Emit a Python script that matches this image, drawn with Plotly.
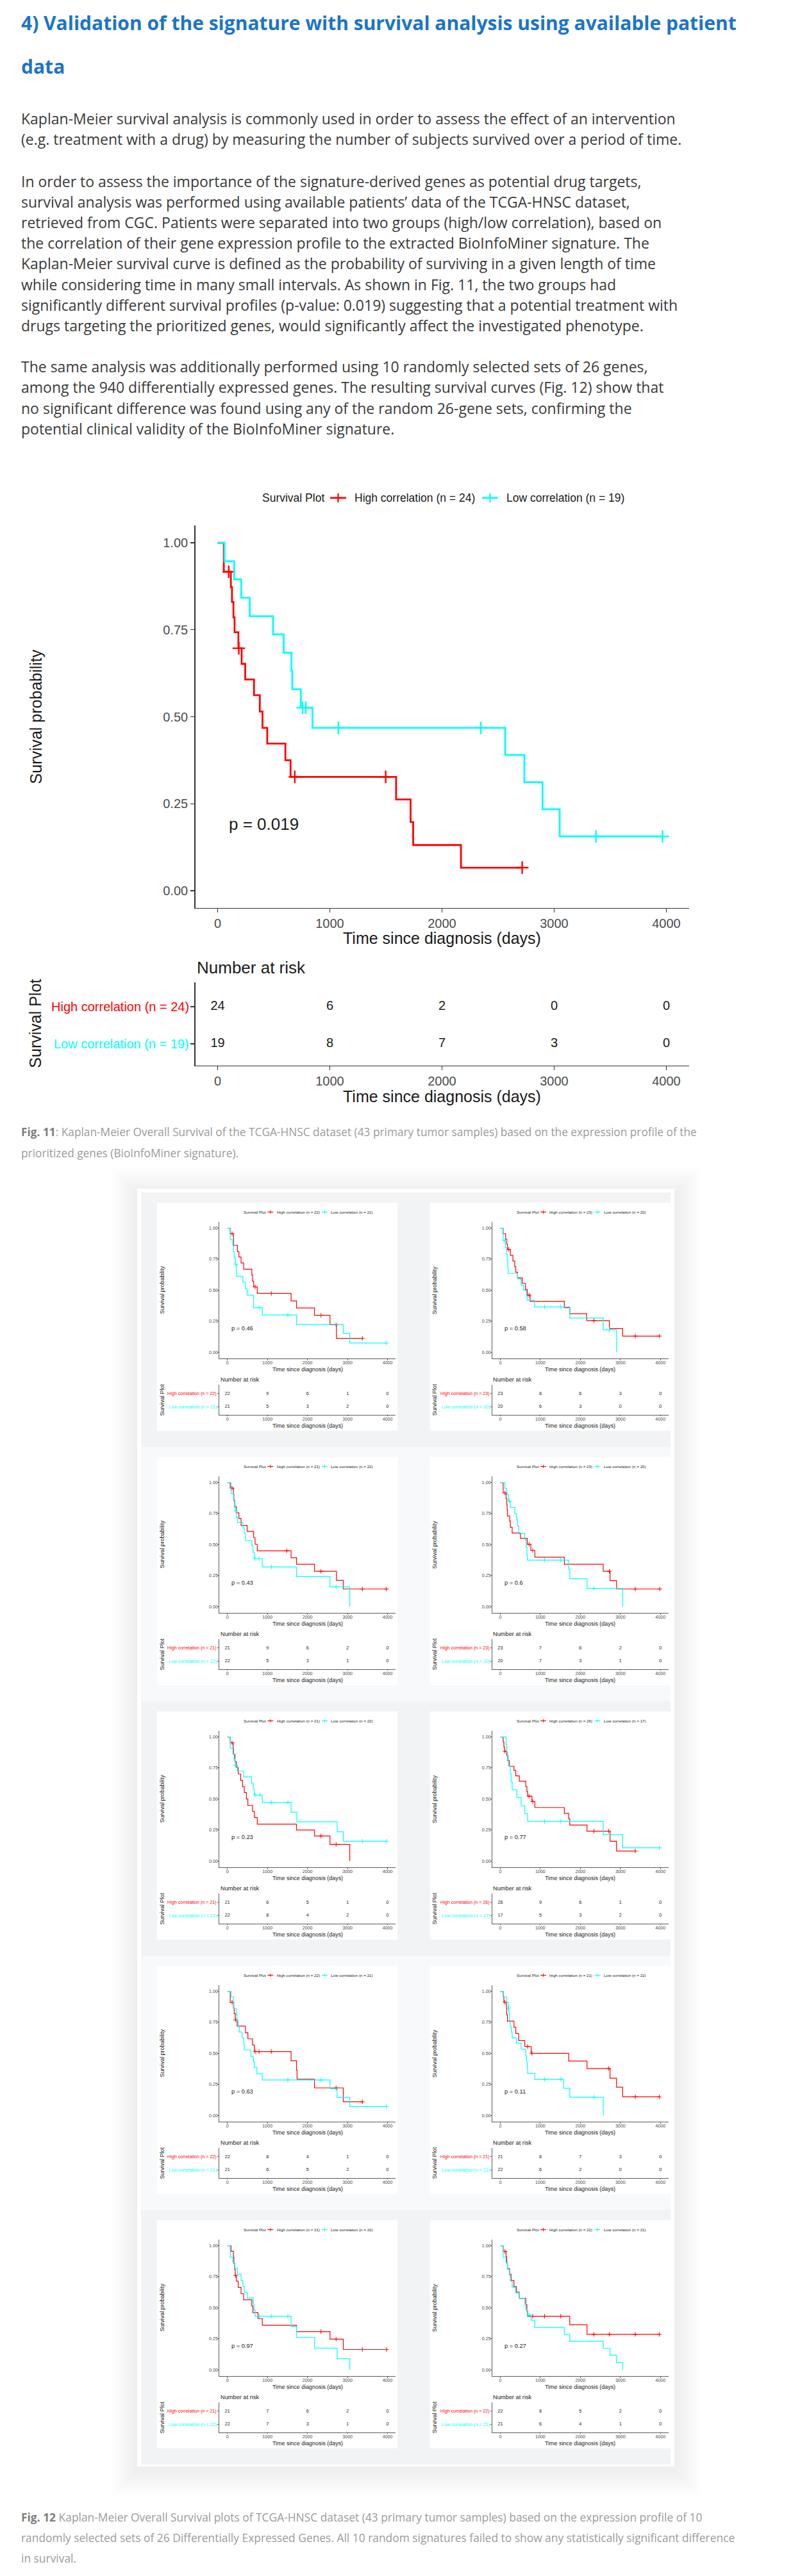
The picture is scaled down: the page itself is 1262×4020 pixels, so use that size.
import plotly.graph_objects as go

W, H = 1262, 4020

# ---------------- page text ----------------
HEADING = ["4) Validation of the signature with survival analysis using available patient", "data"]
PARA1 = [
    "Kaplan-Meier survival analysis is commonly used in order to assess the effect of an intervention",
    "(e.g. treatment with a drug) by measuring the number of subjects survived over a period of time.",
]
PARA2 = [
    "In order to assess the importance of the signature-derived genes as potential drug targets,",
    "survival analysis was performed using available patients\u2019 data of the TCGA-HNSC dataset,",
    "retrieved from CGC. Patients were separated into two groups (high/low correlation), based on",
    "the correlation of their gene expression profile to the extracted BioInfoMiner signature. The",
    "Kaplan-Meier survival curve is defined as the probability of surviving in a given length of time",
    "while considering time in many small intervals. As shown in Fig. 11, the two groups had",
    "significantly different survival profiles (p-value: 0.019) suggesting that a potential treatment with",
    "drugs targeting the prioritized genes, would significantly affect the investigated phenotype.",
]
PARA3 = [
    "The same analysis was additionally performed using 10 randomly selected sets of 26 genes,",
    "among the 940 differentially expressed genes. The resulting survival curves (Fig. 12) show that",
    "no significant difference was found using any of the random 26-gene sets, confirming the",
    "potential clinical validity of the BioInfoMiner signature.",
]
CAP11_BOLD = "Fig. 11"
CAP11 = [
    ": Kaplan-Meier Overall Survival of the TCGA-HNSC dataset (43 primary tumor samples) based on the expression profile of the",
    "prioritized genes (BioInfoMiner signature).",
]
CAP12_BOLD = "Fig. 12"
CAP12 = [
    " Kaplan-Meier Overall Survival plots of TCGA-HNSC dataset (43 primary tumor samples) based on the expression profile of 10",
    "randomly selected sets of 26 Differentially Expressed Genes. All 10 random signatures failed to show any statistically significant difference",
    "in survival.",
]

# ---------------- shared chart labels ----------------
TIME_TICKS = [0, 1000, 2000, 3000, 4000]
PROB_TICKS = [0, 0.25, 0.5, 0.75, 1.0]
PROB_LABELS = ["0.00", "0.25", "0.50", "0.75", "1.00"]
X_TITLE = "Time since diagnosis (days)"
Y_TITLE = "Survival probability"
LEGEND_TITLE = "Survival Plot"
RISK_TITLE = "Number at risk"
RISK_TIMES = [0, 1000, 2000, 3000, 4000]

# ---------------- Fig. 11 data ----------------
F11_P = "p = 0.019"
F11_N = [24, 19]
F11_HIGH_T = [0, 55, 118, 128, 141, 151, 185, 214, 246, 324, 376, 400, 442, 604, 650, 1591, 1720, 1743, 2169]
F11_HIGH_S = [1.0, 0.917, 0.873, 0.830, 0.786, 0.743, 0.697, 0.652, 0.607, 0.562, 0.515, 0.468, 0.423, 0.375, 0.327, 0.262, 0.197, 0.131, 0.066]
F11_HIGH_END = 2715
F11_HIGH_CENS = [99, 189, 688, 1498, 2715]
F11_LOW_T = [0, 61, 147, 210, 286, 494, 589, 658, 665, 742, 845, 2563, 2734, 2896, 3049]
F11_LOW_S = [1.0, 0.947, 0.895, 0.842, 0.789, 0.737, 0.684, 0.632, 0.579, 0.526, 0.468, 0.390, 0.312, 0.234, 0.156]
F11_LOW_END = 3966
F11_LOW_CENS = [757, 786, 1076, 2346, 3373, 3966]
F11_RISK_HIGH = [24, 6, 2, 0, 0]
F11_RISK_LOW = [19, 8, 7, 3, 0]

# ---------------- Fig. 12 data (10 random gene sets) ----------------
R1_P = "p = 0.46"; R1_N = [22, 21]
R1_HIGH_T = [0, 72, 153, 252, 288, 342, 405, 611, 629, 656, 746, 1591, 1726, 2175, 2562, 2723]
R1_HIGH_S = [1.0, 0.955, 0.862, 0.81, 0.767, 0.719, 0.669, 0.62, 0.572, 0.526, 0.474, 0.414, 0.357, 0.298, 0.221, 0.112]
R1_HIGH_END = 3371
R1_HIGH_CENS = [117, 692, 1097, 2337, 2714, 3371]
R1_LOW_T = [0, 72, 135, 153, 171, 198, 225, 387, 449, 494, 656, 872, 1726, 2894, 3056]
R1_LOW_S = [1.0, 0.905, 0.857, 0.81, 0.76, 0.71, 0.612, 0.564, 0.512, 0.46, 0.359, 0.3, 0.224, 0.152, 0.074]
R1_LOW_END = 3973
R1_LOW_CENS = [207, 791, 1510, 3973]
R1_RISK_HIGH = [22, 9, 6, 1, 0]
R1_RISK_LOW = [21, 5, 3, 2, 0]

R2_P = "p = 0.58"; R2_N = [23, 20]
R2_HIGH_T = [0, 72, 135, 162, 180, 252, 315, 360, 387, 432, 548, 629, 674, 746, 1600, 1735, 2157, 2723, 3056]
R2_HIGH_S = [1.0, 0.955, 0.91, 0.87, 0.828, 0.78, 0.735, 0.69, 0.645, 0.6, 0.555, 0.505, 0.46, 0.41, 0.36, 0.31, 0.255, 0.19, 0.13]
R2_HIGH_END = 3973
R2_HIGH_CENS = [207, 719, 2337, 3371, 3973]
R2_LOW_T = [0, 72, 126, 153, 171, 189, 198, 432, 521, 584, 656, 674, 854, 1735, 2571, 2903]
R2_LOW_S = [1.0, 0.9, 0.845, 0.79, 0.74, 0.688, 0.635, 0.59, 0.54, 0.5, 0.45, 0.42, 0.365, 0.276, 0.18, 0.0]
R2_LOW_END = 2903
R2_LOW_CENS = [117, 1106, 1510, 2723]
R2_RISK_HIGH = [23, 8, 6, 3, 0]
R2_RISK_LOW = [20, 6, 3, 0, 0]

R3_P = "p = 0.43"; R3_N = [21, 22]
R3_HIGH_T = [0, 72, 153, 162, 180, 225, 288, 342, 494, 656, 692, 746, 1591, 1726, 2175, 2723, 2894]
R3_HIGH_S = [1.0, 0.955, 0.905, 0.855, 0.805, 0.756, 0.71, 0.654, 0.606, 0.555, 0.502, 0.45, 0.394, 0.341, 0.285, 0.211, 0.142]
R3_HIGH_END = 3973
R3_HIGH_CENS = [117, 1483, 2337, 3371, 3973]
R3_LOW_T = [0, 90, 153, 180, 198, 225, 252, 387, 423, 450, 611, 638, 674, 872, 1726, 2562, 3056]
R3_LOW_S = [1.0, 0.912, 0.865, 0.815, 0.77, 0.72, 0.68, 0.635, 0.59, 0.533, 0.49, 0.44, 0.386, 0.32, 0.242, 0.16, 0.0]
R3_LOW_END = 3056
R3_LOW_CENS = [216, 692, 791, 1097, 2714]
R3_RISK_HIGH = [21, 9, 6, 2, 0]
R3_RISK_LOW = [22, 5, 3, 1, 0]

R4_P = "p = 0.6"; R4_N = [23, 20]
R4_HIGH_T = [0, 72, 144, 162, 171, 180, 234, 252, 297, 503, 674, 764, 863, 1600, 2571, 2741, 2903]
R4_HIGH_S = [1.0, 0.917, 0.87, 0.825, 0.78, 0.73, 0.69, 0.64, 0.593, 0.55, 0.502, 0.453, 0.398, 0.341, 0.285, 0.21, 0.142]
R4_HIGH_END = 3982
R4_HIGH_CENS = [117, 719, 809, 2723, 3371, 3982]
R4_LOW_T = [0, 117, 162, 207, 252, 360, 405, 432, 459, 611, 647, 665, 674, 1708, 1735, 2166, 3056]
R4_LOW_S = [1.0, 0.952, 0.903, 0.85, 0.8, 0.75, 0.7, 0.65, 0.588, 0.54, 0.48, 0.42, 0.375, 0.3, 0.225, 0.147, 0.0]
R4_LOW_END = 3056
R4_LOW_CENS = [225, 1106, 1510, 2337]
R4_RISK_HIGH = [23, 7, 6, 2, 0]
R4_RISK_LOW = [20, 7, 3, 1, 0]

R5_P = "p = 0.23"; R5_N = [21, 22]
R5_HIGH_T = [0, 72, 144, 153, 189, 225, 270, 333, 378, 423, 476, 512, 629, 674, 746, 1726, 2175, 2562, 3056]
R5_HIGH_S = [1.0, 0.953, 0.905, 0.86, 0.8, 0.755, 0.702, 0.65, 0.6, 0.552, 0.5, 0.448, 0.4, 0.35, 0.298, 0.25, 0.202, 0.134, 0.0]
R5_HIGH_END = 3056
R5_HIGH_CENS = [117, 2337, 2714]
R5_LOW_T = [0, 72, 135, 171, 198, 252, 405, 602, 647, 674, 872, 1591, 1735, 2741, 2894]
R5_LOW_S = [1.0, 0.909, 0.86, 0.82, 0.77, 0.724, 0.678, 0.626, 0.58, 0.531, 0.472, 0.393, 0.316, 0.236, 0.159]
R5_LOW_END = 3973
R5_LOW_CENS = [207, 692, 809, 1097, 1510, 3371, 3973]
R5_RISK_HIGH = [21, 6, 5, 1, 0]
R5_RISK_LOW = [22, 8, 4, 2, 0]

R6_P = "p = 0.77"; R6_N = [26, 17]
R6_HIGH_T = [0, 72, 90, 108, 162, 189, 225, 342, 387, 476, 638, 665, 683, 791, 863, 1600, 1708, 1735, 2166, 2741, 2903]
R6_HIGH_S = [1.0, 0.96, 0.92, 0.883, 0.85, 0.81, 0.764, 0.73, 0.686, 0.643, 0.6, 0.56, 0.522, 0.479, 0.431, 0.384, 0.34, 0.29, 0.241, 0.16, 0.081]
R6_HIGH_END = 3371
R6_HIGH_CENS = [117, 719, 809, 2337, 2705, 3371]
R6_LOW_T = [0, 144, 162, 180, 207, 252, 270, 297, 414, 521, 611, 683, 2571, 3056]
R6_LOW_S = [1.0, 0.94, 0.88, 0.82, 0.765, 0.702, 0.64, 0.574, 0.512, 0.445, 0.383, 0.319, 0.212, 0.107]
R6_LOW_END = 3973
R6_LOW_CENS = [1106, 1510, 3973]
R6_RISK_HIGH = [26, 9, 6, 1, 0]
R6_RISK_LOW = [17, 5, 3, 2, 0]

R7_P = "p = 0.63"; R7_N = [22, 21]
R7_HIGH_T = [0, 72, 153, 171, 198, 243, 449, 512, 629, 674, 1591, 1726, 1740, 2175, 2894]
R7_HIGH_S = [1.0, 0.912, 0.865, 0.82, 0.769, 0.719, 0.667, 0.617, 0.567, 0.514, 0.441, 0.365, 0.293, 0.222, 0.11]
R7_HIGH_END = 3371
R7_HIGH_CENS = [117, 207, 692, 791, 1097, 2714, 3371]
R7_LOW_T = [0, 90, 153, 162, 225, 243, 270, 297, 369, 405, 423, 584, 647, 674, 737, 872, 2562, 2741, 3056]
R7_LOW_S = [1.0, 0.955, 0.905, 0.862, 0.81, 0.765, 0.715, 0.672, 0.626, 0.575, 0.528, 0.476, 0.43, 0.385, 0.336, 0.286, 0.216, 0.145, 0.072]
R7_LOW_END = 3973
R7_LOW_CENS = [1510, 2337, 3973]
R7_RISK_HIGH = [22, 8, 4, 1, 0]
R7_RISK_LOW = [21, 6, 5, 2, 0]

R8_P = "p = 0.11"; R8_N = [21, 22]
R8_HIGH_T = [0, 72, 90, 153, 162, 180, 342, 387, 459, 611, 773, 1708, 2166, 2741, 2903, 3056]
R8_HIGH_S = [1.0, 0.955, 0.912, 0.86, 0.81, 0.76, 0.71, 0.66, 0.603, 0.555, 0.5, 0.438, 0.378, 0.3, 0.228, 0.15]
R8_HIGH_END = 3973
R8_HIGH_CENS = [117, 683, 791, 2705, 3371, 3973]
R8_LOW_T = [0, 72, 162, 198, 216, 234, 252, 279, 297, 405, 521, 638, 656, 674, 683, 863, 1582, 1735, 2571]
R8_LOW_S = [1.0, 0.955, 0.91, 0.865, 0.82, 0.765, 0.715, 0.67, 0.624, 0.583, 0.534, 0.48, 0.43, 0.385, 0.338, 0.29, 0.219, 0.147, 0.0]
R8_LOW_END = 2571
R8_LOW_CENS = [207, 1106, 1510, 2337]
R8_RISK_HIGH = [21, 8, 7, 3, 0]
R8_RISK_LOW = [22, 6, 2, 0, 0]

R9_P = "p = 0.97"; R9_N = [21, 22]
R9_HIGH_T = [0, 90, 153, 162, 180, 198, 225, 270, 342, 405, 611, 638, 764, 872, 1726, 2562, 2894]
R9_HIGH_S = [1.0, 0.954, 0.905, 0.858, 0.81, 0.76, 0.714, 0.664, 0.613, 0.565, 0.513, 0.461, 0.413, 0.36, 0.308, 0.247, 0.164]
R9_HIGH_END = 3973
R9_HIGH_CENS = [207, 2337, 2714, 3371, 3973]
R9_LOW_T = [0, 72, 135, 180, 252, 342, 387, 423, 494, 647, 665, 692, 1591, 1726, 2175, 2741, 3056]
R9_LOW_S = [1.0, 0.908, 0.865, 0.82, 0.77, 0.72, 0.672, 0.625, 0.579, 0.53, 0.48, 0.432, 0.349, 0.262, 0.175, 0.09, 0.0]
R9_LOW_END = 3056
R9_LOW_CENS = [791, 1097, 1510]
R9_RISK_HIGH = [21, 7, 6, 2, 0]
R9_RISK_LOW = [22, 7, 3, 1, 0]

R10_P = "p = 0.27"; R10_N = [22, 21]
R10_HIGH_T = [0, 72, 144, 162, 180, 234, 270, 342, 405, 476, 638, 665, 683, 1735, 2166]
R10_HIGH_S = [1.0, 0.954, 0.91, 0.86, 0.815, 0.77, 0.72, 0.67, 0.625, 0.576, 0.525, 0.475, 0.432, 0.363, 0.286]
R10_HIGH_END = 3973
R10_HIGH_CENS = [117, 809, 1106, 1510, 2337, 2723, 3371, 3973]
R10_LOW_T = [0, 72, 144, 180, 234, 252, 297, 387, 476, 611, 638, 674, 773, 863, 1600, 1735, 2571, 2741, 2903, 3056]
R10_LOW_S = [1.0, 0.908, 0.86, 0.81, 0.76, 0.715, 0.665, 0.62, 0.575, 0.53, 0.485, 0.44, 0.4, 0.341, 0.286, 0.23, 0.173, 0.118, 0.059, 0.0]
R10_LOW_END = 3056
R10_LOW_CENS = [719]
R10_RISK_HIGH = [22, 8, 5, 2, 0]
R10_RISK_LOW = [21, 6, 4, 1, 0]

# ---------------- styling ----------------
RED = "#FF0000"
CYAN = "#00FFFF"
AXIS_COLOR = "#333333"
TICK_COLOR = "#4d4d4d"
GG_FONT = "Liberation Sans, Arial, sans-serif"
PAGE_FONT = "Open Sans, sans-serif"
HEAD_COLOR = "#1b75c9"
BODY_COLOR = "#3a3a3a"
CAP_COLOR = "#9b9b9b"


def chart(p, n, ht, hs, hend, hc, lt, ls, lend, lc, rh, rl):
    return dict(p=p, n=n, high=(ht, hs, hend, hc), low=(lt, ls, lend, lc), rh=rh, rl=rl)


MAIN = chart(F11_P, F11_N, F11_HIGH_T, F11_HIGH_S, F11_HIGH_END, F11_HIGH_CENS,
             F11_LOW_T, F11_LOW_S, F11_LOW_END, F11_LOW_CENS, F11_RISK_HIGH, F11_RISK_LOW)
SMALL = [
    chart(R1_P, R1_N, R1_HIGH_T, R1_HIGH_S, R1_HIGH_END, R1_HIGH_CENS, R1_LOW_T, R1_LOW_S, R1_LOW_END, R1_LOW_CENS, R1_RISK_HIGH, R1_RISK_LOW),
    chart(R2_P, R2_N, R2_HIGH_T, R2_HIGH_S, R2_HIGH_END, R2_HIGH_CENS, R2_LOW_T, R2_LOW_S, R2_LOW_END, R2_LOW_CENS, R2_RISK_HIGH, R2_RISK_LOW),
    chart(R3_P, R3_N, R3_HIGH_T, R3_HIGH_S, R3_HIGH_END, R3_HIGH_CENS, R3_LOW_T, R3_LOW_S, R3_LOW_END, R3_LOW_CENS, R3_RISK_HIGH, R3_RISK_LOW),
    chart(R4_P, R4_N, R4_HIGH_T, R4_HIGH_S, R4_HIGH_END, R4_HIGH_CENS, R4_LOW_T, R4_LOW_S, R4_LOW_END, R4_LOW_CENS, R4_RISK_HIGH, R4_RISK_LOW),
    chart(R5_P, R5_N, R5_HIGH_T, R5_HIGH_S, R5_HIGH_END, R5_HIGH_CENS, R5_LOW_T, R5_LOW_S, R5_LOW_END, R5_LOW_CENS, R5_RISK_HIGH, R5_RISK_LOW),
    chart(R6_P, R6_N, R6_HIGH_T, R6_HIGH_S, R6_HIGH_END, R6_HIGH_CENS, R6_LOW_T, R6_LOW_S, R6_LOW_END, R6_LOW_CENS, R6_RISK_HIGH, R6_RISK_LOW),
    chart(R7_P, R7_N, R7_HIGH_T, R7_HIGH_S, R7_HIGH_END, R7_HIGH_CENS, R7_LOW_T, R7_LOW_S, R7_LOW_END, R7_LOW_CENS, R7_RISK_HIGH, R7_RISK_LOW),
    chart(R8_P, R8_N, R8_HIGH_T, R8_HIGH_S, R8_HIGH_END, R8_HIGH_CENS, R8_LOW_T, R8_LOW_S, R8_LOW_END, R8_LOW_CENS, R8_RISK_HIGH, R8_RISK_LOW),
    chart(R9_P, R9_N, R9_HIGH_T, R9_HIGH_S, R9_HIGH_END, R9_HIGH_CENS, R9_LOW_T, R9_LOW_S, R9_LOW_END, R9_LOW_CENS, R9_RISK_HIGH, R9_RISK_LOW),
    chart(R10_P, R10_N, R10_HIGH_T, R10_HIGH_S, R10_HIGH_END, R10_HIGH_CENS, R10_LOW_T, R10_LOW_S, R10_LOW_END, R10_LOW_CENS, R10_RISK_HIGH, R10_RISK_LOW),
]

traces, shapes, annotations, axes = [], [], [], {}


def names(n):
    if n == 1:
        return "xaxis", "yaxis", "x", "y"
    return f"xaxis{n}", f"yaxis{n}", f"x{n}", f"y{n}"


def step_at(ts, ss, t):
    v = ss[0]
    for ti, si in zip(ts, ss):
        if ti <= t:
            v = si
    return v


def px(x):
    return x / W


def py(y):
    return 1 - y / H


def text(x, y, s, size, color="#1a1a1a", anchor="left", family=GG_FONT, angle=0, xref="paper", yref="paper"):
    annotations.append(dict(x=x, y=y, xref=xref, yref=yref, text=s, showarrow=False,
                            xanchor=anchor, yanchor="middle", textangle=angle,
                            font=dict(family=family, size=size, color=color), borderpad=0))


def draw_chart(ch, ox, oy, s, n_km):
    X = lambda v: ox + s * v
    Y = lambda v: oy + s * v
    small = s < 1
    lw_axis = max(1.3 * s, 0.8)
    lw_curve = max(2.8 * s, 1.2)
    n_rt = n_km + 1
    xk, yk, xkr, ykr = names(n_km)
    xr, yr, xrr, yrr = names(n_rt)
    base = dict(showline=True, linecolor=AXIS_COLOR, linewidth=lw_axis, ticks="outside",
                ticklen=2 if small else 6, tickwidth=lw_axis, tickcolor=AXIS_COLOR,
                showgrid=False, zeroline=False, fixedrange=True,
                ticklabelstandoff=-2 if small else 0,
                tickfont=dict(family=GG_FONT, size=20 * s, color=TICK_COLOR))
    xdom = [px(X(304.5)), px(X(1074.5))]
    axes[xk] = dict(base, domain=xdom, anchor=ykr, range=[-200, 4200],
                    tickvals=TIME_TICKS, ticktext=[str(t) for t in TIME_TICKS])
    axes[yk] = dict(base, domain=[py(Y(1417)), py(Y(820))], anchor=xkr, range=[-0.05, 1.05],
                    tickvals=PROB_TICKS, ticktext=PROB_LABELS)
    axes[xr] = dict(base, domain=xdom, anchor=yrr, range=[-200, 4200],
                    tickvals=TIME_TICKS, ticktext=[str(t) for t in TIME_TICKS])
    axes[yr] = dict(base, domain=[py(Y(1662.7)), py(Y(1532.7))], anchor=xrr, range=[0.42, 2.66],
                    tickvals=[1, 2], ticktext=["", ""])

    for (ts, ss, end, cens), col in ((ch["high"], RED), (ch["low"], CYAN)):
        traces.append(go.Scatter(x=ts + [end], y=ss + [ss[-1]], mode="lines",
                                 line=dict(color=col, width=lw_curve, shape="hv"),
                                 xaxis=xkr, yaxis=ykr, showlegend=False, hoverinfo="skip"))
        traces.append(go.Scatter(x=cens, y=[step_at(ts, ss, c) for c in cens], mode="markers",
                                 marker=dict(symbol="cross-thin", size=max(14 * s, 5), color=col,
                                             line=dict(color=col, width=max(2.4 * s, 1))),
                                 xaxis=xkr, yaxis=ykr, showlegend=False, hoverinfo="skip"))
    for vals, row in ((ch["rh"], 2), (ch["rl"], 1)):
        traces.append(go.Scatter(x=RISK_TIMES, y=[row] * len(RISK_TIMES), mode="text",
                                 text=[str(v) for v in vals],
                                 textfont=dict(family=GG_FONT, size=20 * s, color="#1a1a1a"),
                                 xaxis=xrr, yaxis=yrr, showlegend=False, hoverinfo="skip"))

    # p-value
    text(92, 0.192, ch["p"], 26 * s, xref=xkr, yref=ykr)
    # legend
    ly = Y(777)
    text(px(X(408)), py(ly), LEGEND_TITLE, 17.5 * s)
    for (k0, k1, tx, lab, col) in ((515, 540, 552, f"High correlation (n = {ch['n'][0]})", RED),
                                   (752, 777, 789, f"Low correlation (n = {ch['n'][1]})", CYAN)):
        shapes.append(dict(type="line", xref="paper", yref="paper", x0=px(X(k0)), x1=px(X(k1)),
                           y0=py(ly), y1=py(ly), line=dict(color=col, width=lw_curve)))
        cx = (k0 + k1) / 2
        shapes.append(dict(type="line", xref="paper", yref="paper", x0=px(X(cx)), x1=px(X(cx)),
                           y0=py(ly - 7 * s), y1=py(ly + 7 * s), line=dict(color=col, width=max(2.2 * s, 1))))
        text(px(X(tx)), py(ly), lab, 17.5 * s)
    # axis titles
    text(px(X(55)), py(Y(1118.5)), Y_TITLE, 25 * s, anchor="center", angle=-90)
    text(px(X(689.5)), py(Y(1464)), X_TITLE, 25 * s, anchor="center")
    text(px(X(306)), py(Y(1510)), RISK_TITLE, 26 * s)
    text(px(X(55)), py(Y(1597.7)), LEGEND_TITLE, 25 * s, anchor="center", angle=-90)
    text(px(X(689.5)), py(Y(1711)), X_TITLE, 25 * s, anchor="center")
    text(px(X(296)), py(Y(1571)), f"High correlation (n = {ch['n'][0]})", 20 * s, color=RED, anchor="right")
    text(px(X(296)), py(Y(1629)), f"Low correlation (n = {ch['n'][1]})", 20 * s, color=CYAN, anchor="right")


# ---------------- Fig. 12 panel backgrounds ----------------
CARD = (214, 1855, 1052, 3849)
for k in range(1, 9):
    e = 5 * k
    shapes.append(dict(type="rect", xref="paper", yref="paper", layer="below",
                       x0=px(CARD[0] - e), x1=px(CARD[2] + e), y0=py(CARD[1] - e + 6), y1=py(CARD[3] + e + 6),
                       line=dict(width=0), fillcolor="rgba(0,0,0,0.009)"))
shapes.append(dict(type="rect", xref="paper", yref="paper", layer="below",
                   x0=px(CARD[0]), x1=px(CARD[2]), y0=py(CARD[1]), y1=py(CARD[3]),
                   line=dict(width=0), fillcolor="#ffffff"))
S = 0.357
ROW_PITCH = 397
COL_OFF = [233.5, 659.2]
ROW0 = 1614.1
for r in range(5):
    top = 1861 + ROW_PITCH * r
    bot = 3846 if r == 4 else top + ROW_PITCH
    shapes.append(dict(type="rect", xref="paper", yref="paper", layer="below",
                       x0=px(220), x1=px(1046), y0=py(top), y1=py(bot),
                       line=dict(width=0), fillcolor="#f2f3f5" if r % 2 == 0 else "#f8f9fb"))
    for c in range(2):
        ox, oy = COL_OFF[c], ROW0 + ROW_PITCH * r
        shapes.append(dict(type="rect", xref="paper", yref="paper", layer="below",
                           x0=px(ox + S * 32), x1=px(ox + S * 1083), y0=py(oy + S * 736), y1=py(oy + S * 1733),
                           line=dict(width=0), fillcolor="#ffffff"))

# ---------------- charts ----------------
draw_chart(MAIN, 0, 0, 1, 1)
for i, ch in enumerate(SMALL):
    r, c = divmod(i, 2)
    draw_chart(ch, COL_OFF[c], ROW0 + ROW_PITCH * r, S, 3 + 2 * i)

# ---------------- page text ----------------
for i, line in enumerate(HEADING):
    text(px(32), py(36 + 67 * i), f"<b>{line}</b>", 30, color=HEAD_COLOR, family=PAGE_FONT)
for i, line in enumerate(PARA1):
    text(px(32), py(185 + 32.3 * i), line, 23, color=BODY_COLOR, family=PAGE_FONT)
for i, line in enumerate(PARA2):
    text(px(32), py(282.5 + 32.2 * i), line, 23, color=BODY_COLOR, family=PAGE_FONT)
for i, line in enumerate(PARA3):
    text(px(32), py(572 + 32.4 * i), line, 23, color=BODY_COLOR, family=PAGE_FONT)
for i, line in enumerate(CAP11):
    s = (f"<span style='color:#7d7d7d'><b>{CAP11_BOLD}</b></span>" + line) if i == 0 else line
    text(px(32), py(1766 + 34 * i), s, 17.3, color=CAP_COLOR, family=PAGE_FONT)
for i, line in enumerate(CAP12):
    s = (f"<span style='color:#7d7d7d'><b>{CAP12_BOLD}</b></span>" + line) if i == 0 else line
    text(px(32), py(3928 + 32 * i), s, 17.4, color=CAP_COLOR, family=PAGE_FONT)

fig = go.Figure(data=traces)
fig.update_layout(width=W, height=H, margin=dict(l=0, r=0, t=0, b=0),
                  paper_bgcolor="#ffffff", plot_bgcolor="rgba(0,0,0,0)",
                  showlegend=False, shapes=shapes, annotations=annotations, **axes)
fig.write_html("out.html", config={"displayModeBar": False, "staticPlot": True},
               post_script="document.body.style.margin='0';document.body.style.overflow='hidden';")
